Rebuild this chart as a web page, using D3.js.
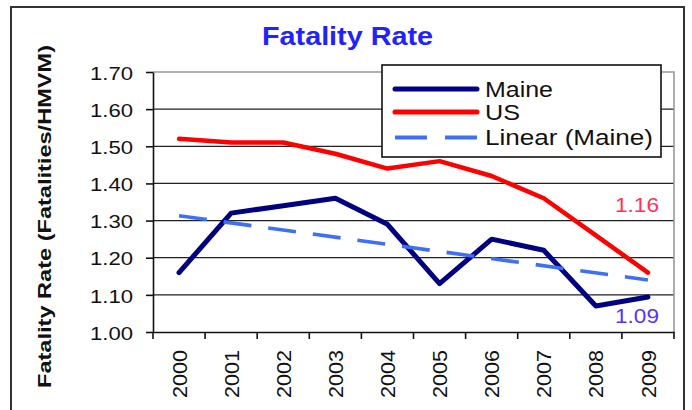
<html lang="en">
<head>
  <title>Fatality Rate</title>
  <meta charset="utf-8">
  <script src="https://d3js.org/d3.v7.min.js"></script>
  <style>
    body { margin: 0; background: #fff; }
    text { font-family: "Liberation Sans", Arial, sans-serif; }
  </style>
</head>
<body>
<svg id="canvas"></svg>
<script>

// ************************************************************************************** //
// Data

var years = ['2000', '2001', '2002', '2003', '2004', '2005', '2006', '2007', '2008', '2009'];
var maine = [1.16, 1.32, 1.34, 1.36, 1.29, 1.13, 1.25, 1.22, 1.07, 1.094];
var us    = [1.52, 1.51, 1.51, 1.48, 1.44, 1.46, 1.42, 1.36, 1.26, 1.16];
var trendMaine = [1.313, 1.14];   // Linear (Maine), first and last year
var yTicks = [1.00, 1.10, 1.20, 1.30, 1.40, 1.50, 1.60, 1.70];
var seriesNames = ['Maine', 'US', 'Linear (Maine)'];

// ************************************************************************************** //
// Setup

var width = 692, height = 410;
var svg = d3.select('#canvas').attr('width', width).attr('height', height);

var plot = { left: 153, right: 674, top: 72, bottom: 332 };
var x = d3.scaleBand().domain(years).range([plot.left, plot.right]);
var y = d3.scaleLinear().domain([1.0, 1.7]).range([plot.bottom, plot.top]);
var cx = function(d){ return x(d) + x.bandwidth()/2; };
var fmt = d3.format('.2f');

var colors = { maine: '#000080', us: '#ff0000', trend: '#3f6ff5' };

// outer frame
svg.append('rect').attr('x', 11).attr('y', 7).attr('width', 673).attr('height', 430)
  .attr('fill', 'none').attr('stroke', '#333').attr('stroke-width', 2);

// title
svg.append('text').attr('x', 262).attr('y', 45)
  .attr('font-size', 26).attr('font-weight', 'bold').attr('fill', '#2222ff')
  .attr('textLength', 171).attr('lengthAdjust', 'spacingAndGlyphs')
  .text('Fatality Rate');

// y title
svg.append('text').attr('transform', 'translate(51,216.5) rotate(-90)')
  .attr('text-anchor', 'middle').attr('font-size', 19).attr('font-weight', 'bold').attr('fill', '#111')
  .attr('textLength', 343).attr('lengthAdjust', 'spacingAndGlyphs')
  .text('Fatality Rate (Fatalities/HMVM)');

// gridlines
svg.append('g').selectAll('line').data(yTicks.filter(function(d){ return d > 1.0 && d < 1.7; }))
  .enter().append('line')
  .attr('x1', plot.left).attr('x2', plot.right)
  .attr('y1', function(d){ return y(d); }).attr('y2', function(d){ return y(d); })
  .attr('stroke', '#222').attr('stroke-width', 1.3);

// plot border top/right
svg.append('path')
  .attr('d', 'M' + plot.left + ',' + y(1.7) + 'H' + plot.right + 'V' + plot.bottom)
  .attr('fill', 'none').attr('stroke', '#999').attr('stroke-width', 1.6);

// y axis
var yAxis = svg.append('g').attr('transform', 'translate(' + plot.left + ',0)')
  .call(d3.axisLeft(y).tickValues(yTicks).tickFormat(fmt).tickSize(7).tickSizeOuter(0).tickPadding(13));
yAxis.select('.domain').attr('stroke', '#111').attr('stroke-width', 1.6);
yAxis.selectAll('.tick line').attr('stroke', '#111').attr('stroke-width', 1.6);
yAxis.selectAll('.tick text')
  .attr('font-size', 18).attr('fill', '#111').attr('dy', '0.4em')
  .attr('textLength', 43).attr('lengthAdjust', 'spacingAndGlyphs');

// x axis
var xAxis = svg.append('g').attr('transform', 'translate(0,' + plot.bottom + ')')
  .call(d3.axisBottom(x).tickSize(0).tickSizeOuter(0).tickPadding(0));
xAxis.select('.domain').attr('stroke', '#111').attr('stroke-width', 1.6);
xAxis.selectAll('.tick text')
  .attr('transform', 'translate(0,18) rotate(-90)')
  .attr('text-anchor', 'end').attr('y', 0).attr('x', 0).attr('dy', '0.36em')
  .attr('font-size', 21).attr('fill', '#111')
  .attr('textLength', 48).attr('lengthAdjust', 'spacingAndGlyphs');
xAxis.selectAll('.edge').data(years.map(function(d){ return x(d); }).concat([plot.right]))
  .enter().append('line').attr('class', 'edge')
  .attr('x1', function(d){ return d; }).attr('x2', function(d){ return d; })
  .attr('y1', 0).attr('y2', 7)
  .attr('stroke', '#111').attr('stroke-width', 1.6);

// lines
var lineGen = d3.line().x(function(d){ return cx(d.year); }).y(function(d){ return y(d.value); });
var toPts = function(arr){ return arr.map(function(v, i){ return { year: years[i], value: v }; }); };

svg.append('path').datum(toPts(maine)).attr('d', lineGen)
  .attr('fill', 'none').attr('stroke', colors.maine).attr('stroke-width', 5)
  .attr('stroke-linejoin', 'round').attr('stroke-linecap', 'round');

svg.append('path').datum(toPts(us)).attr('d', lineGen)
  .attr('fill', 'none').attr('stroke', colors.us).attr('stroke-width', 4.5)
  .attr('stroke-linejoin', 'round').attr('stroke-linecap', 'round');

var trendPts = [{ year: years[0], value: trendMaine[0] }, { year: years[years.length-1], value: trendMaine[1] }];
svg.append('path').datum(trendPts).attr('d', lineGen)
  .attr('fill', 'none').attr('stroke', colors.trend).attr('stroke-width', 3.6)
  .attr('stroke-dasharray', '28,17');

// end labels
svg.append('text').attr('x', 659).attr('y', 212).attr('text-anchor', 'end')
  .attr('font-size', 20).attr('fill', '#ff3355')
  .attr('textLength', 44).attr('lengthAdjust', 'spacingAndGlyphs')
  .text(fmt(us[us.length-1]));
svg.append('text').attr('x', 659).attr('y', 323).attr('text-anchor', 'end')
  .attr('font-size', 20).attr('fill', '#5533ff')
  .attr('textLength', 44).attr('lengthAdjust', 'spacingAndGlyphs')
  .text(fmt(maine[maine.length-1]));

// ************************************************************************************** //
// Legend

var legend = svg.append('g');
legend.append('rect').attr('x', 382).attr('y', 65).attr('width', 279).attr('height', 92)
  .attr('fill', '#fff').attr('stroke', '#111').attr('stroke-width', 1.6);

var legendRows = [
  { name: seriesNames[0], color: colors.maine, w: 5, dash: null, ly: 89, ty: 97, tl: 68 },
  { name: seriesNames[1], color: colors.us, w: 5, dash: null, ly: 112, ty: 120, tl: 35 },
  { name: seriesNames[2], color: colors.trend, w: 4, dash: '32,18', ly: 137.5, ty: 144.5, tl: 168 }
];
legendRows.forEach(function(r){
  legend.append('line').attr('x1', 395).attr('x2', 477).attr('y1', r.ly).attr('y2', r.ly)
    .attr('stroke', r.color).attr('stroke-width', r.w)
    .attr('stroke-linecap', r.dash ? 'butt' : 'round')
    .attr('stroke-dasharray', r.dash);
  legend.append('text').attr('x', 485).attr('y', r.ty)
    .attr('font-size', 22).attr('fill', '#111')
    .attr('textLength', r.tl).attr('lengthAdjust', 'spacingAndGlyphs')
    .text(r.name);
});

</script>
</body>
</html>
